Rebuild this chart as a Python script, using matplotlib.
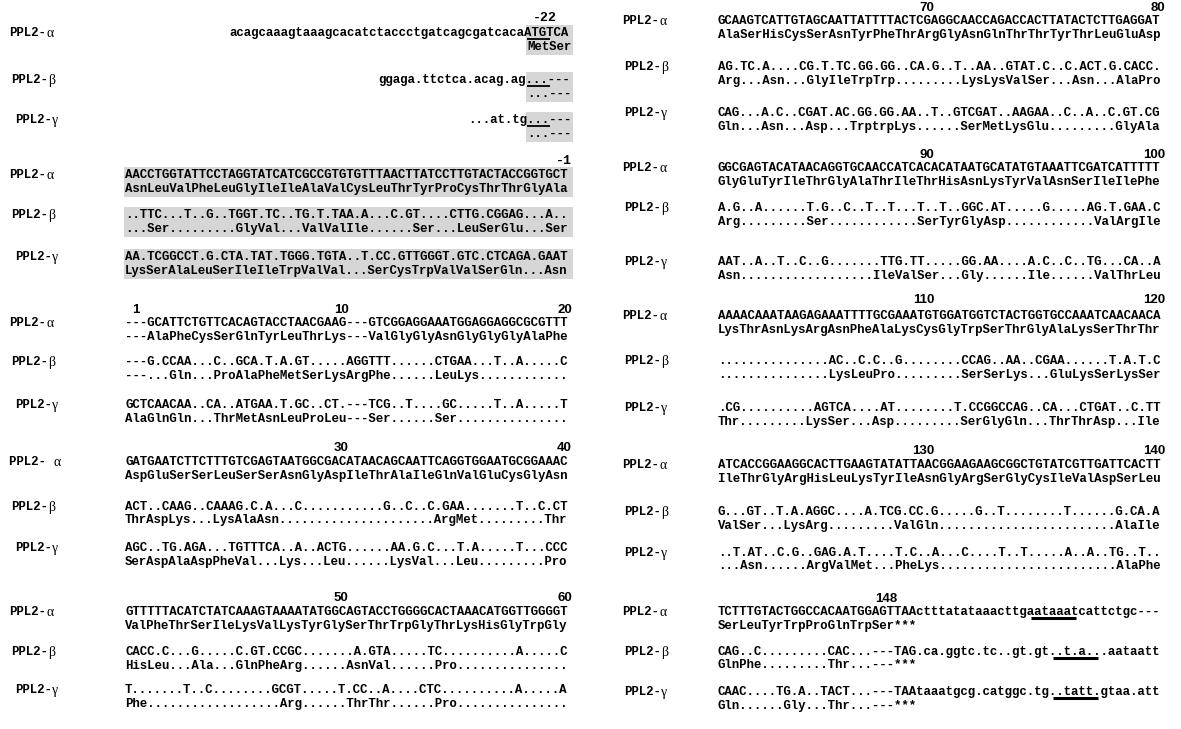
import matplotlib.pyplot as plt
from matplotlib.patches import Rectangle

# sequence names (alpha, beta, gamma)
names = ["PPL2-", "PPL2-", "PPL2-"]
greek = ["α", "β", "γ"]

# block -22 : 5' UTR and start codon
nt_m22 = ["acagcaaagtaaagcacatctaccctgatcagcgatcacaATGTCA",
          "ggaga.ttctca.acag.ag...---",
          "...at.tg...---"]
aa_m22 = ["MetSer", "...---", "...---"]

# block -1 : signal peptide
nt_m1 = ["AACCTGGTATTCCTAGGTATCATCGCCGTGTGTTTAACTTATCCTTGTACTACCGGTGCT",
         "..TTC...T..G..TGGT.TC..TG.T.TAA.A...C.GT....CTTG.CGGAG...A..",
         "AA.TCGGCCT.G.CTA.TAT.TGGG.TGTA..T.CC.GTTGGGT.GTC.CTCAGA.GAAT"]
aa_m1 = ["AsnLeuValPheLeuGlyIleIleAlaValCysLeuThrTyrProCysThrThrGlyAla",
         "...Ser.........GlyVal...ValValIle......Ser...LeuSerGlu...Ser",
         "LysSerAlaLeuSerIleIleTrpValVal...SerCysTrpValValSerGln...Asn"]

# block 1-20
nt_20 = ["---GCATTCTGTTCACAGTACCTAACGAAG---GTCGGAGGAAATGGAGGAGGCGCGTTT",
         "---G.CCAA...C..GCA.T.A.GT.....AGGTTT......CTGAA...T..A.....C",
         "GCTCAACAA..CA..ATGAA.T.GC..CT.---TCG..T....GC.....T..A.....T"]
aa_20 = ["---AlaPheCysSerGlnTyrLeuThrLys---ValGlyGlyAsnGlyGlyGlyAlaPhe",
         "---...Gln...ProAlaPheMetSerLysArgPhe......LeuLys............",
         "AlaGlnGln...ThrMetAsnLeuProLeu---Ser......Ser..............."]

# block 21-40
nt_40 = ["GATGAATCTTCTTTGTCGAGTAATGGCGACATAACAGCAATTCAGGTGGAATGCGGAAAC",
         "ACT..CAAG..CAAAG.C.A...C...........G..C..C.GAA.......T..C.CT",
         "AGC..TG.AGA...TGTTTCA..A..ACTG......AA.G.C...T.A.....T...CCC"]
aa_40 = ["AspGluSerSerLeuSerSerAsnGlyAspIleThrAlaIleGlnValGluCysGlyAsn",
         "ThrAspLys...LysAlaAsn.....................ArgMet.........Thr",
         "SerAspAlaAspPheVal...Lys...Leu......LysVal...Leu.........Pro"]

# block 41-60
nt_60 = ["GTTTTTACATCTATCAAAGTAAAATATGGCAGTACCTGGGGCACTAAACATGGTTGGGGT",
         "CACC.C...G.....C.GT.CCGC.......A.GTA.....TC..........A.....C",
         "T.......T..C........GCGT.....T.CC..A....CTC..........A.....A"]
aa_60 = ["ValPheThrSerIleLysValLysTyrGlySerThrTrpGlyThrLysHisGlyTrpGly",
         "HisLeu...Ala...GlnPheArg......AsnVal......Pro...............",
         "Phe..................Arg......ThrThr......Pro..............."]

# block 61-80
nt_80 = ["GCAAGTCATTGTAGCAATTATTTTACTCGAGGCAACCAGACCACTTATACTCTTGAGGAT",
         "AG.TC.A....CG.T.TC.GG.GG..CA.G..T..AA..GTAT.C..C.ACT.G.CACC.",
         "CAG...A.C..CGAT.AC.GG.GG.AA..T..GTCGAT..AAGAA..C..A..C.GT.CG"]
aa_80 = ["AlaSerHisCysSerAsnTyrPheThrArgGlyAsnGlnThrThrTyrThrLeuGluAsp",
         "Arg...Asn...GlyIleTrpTrp.........LysLysValSer...Asn...AlaPro",
         "Gln...Asn...Asp...TrptrpLys......SerMetLysGlu.........GlyAla"]

# block 81-100
nt_100 = ["GGCGAGTACATAACAGGTGCAACCATCACACATAATGCATATGTAAATTCGATCATTTTT",
          "A.G..A......T.G..C..T..T...T..T..GGC.AT.....G.....AG.T.GAA.C",
          "AAT..A..T..C..G.......TTG.TT.....GG.AA....A.C..C..TG...CA..A"]
aa_100 = ["GlyGluTyrIleThrGlyAlaThrIleThrHisAsnLysTyrValAsnSerIleIlePhe",
          "Arg.........Ser............SerTyrGlyAsp............ValArgIle",
          "Asn..................IleValSer...Gly......Ile......ValThrLeu"]

# block 101-120
nt_120 = ["AAAACAAATAAGAGAAATTTTGCGAAATGTGGATGGTCTACTGGTGCCAAATCAACAACA",
          "...............AC..C.C..G........CCAG..AA..CGAA......T.A.T.C",
          ".CG..........AGTCA....AT........T.CCGGCCAG..CA...CTGAT..C.TT"]
aa_120 = ["LysThrAsnLysArgAsnPheAlaLysCysGlyTrpSerThrGlyAlaLysSerThrThr",
          "...............LysLeuPro.........SerSerLys...GluLysSerLysSer",
          "Thr.........LysSer...Asp.........SerGlyGln...ThrThrAsp...Ile"]

# block 121-140
nt_140 = ["ATCACCGGAAGGCACTTGAAGTATATTAACGGAAGAAGCGGCTGTATCGTTGATTCACTT",
          "G...GT..T.A.AGGC....A.TCG.CC.G.....G..T........T......G.CA.A",
          "..T.AT..C.G..GAG.A.T....T.C..A...C....T..T.....A..A..TG..T.."]
aa_140 = ["IleThrGlyArgHisLeuLysTyrIleAsnGlyArgSerGlyCysIleValAspSerLeu",
          "ValSer...LysArg.........ValGln........................AlaIle",
          "...Asn......ArgValMet...PheLys........................AlaPhe"]

# block 141-148 : stop codon and 3' UTR
nt_148 = ["TCTTTGTACTGGCCACAATGGAGTTAActttatataaacttgaataaatcattctgc---",
          "CAG..C.........CAC...---TAG.ca.ggtc.tc..gt.gt..t.a...aataatt",
          "CAAC....TG.A..TACT...---TAAtaaatgcg.catggc.tg..tatt.gtaa.att"]
aa_148 = ["SerLeuTyrTrpProGlnTrpSer***",
          "GlnPhe.........Thr...---***",
          "Gln......Gly...Thr...---***"]

# ruler numbers: (text, last column it ends on)
ruler_m22 = [("-22", 58)]
ruler_m1 = [("-1", 60)]
ruler_20 = [("1", 2), ("10", 30), ("20", 60)]
ruler_40 = [("30", 30), ("40", 60)]
ruler_60 = [("50", 30), ("60", 60)]
ruler_80 = [("70", 29), ("80", 60)]
ruler_100 = [("90", 29), ("100", 60)]
ruler_120 = [("110", 29), ("120", 60)]
ruler_140 = [("130", 29), ("140", 60)]
ruler_148 = [("148", 24)]

# ---- layout -------------------------------------------------------------
W, H, DPI = 1181, 729, 100
CW = 7.45                       # width of one sequence column in pixels
FS = CW / 0.6 * 72 / DPI        # monospace font size giving that width
MONO = "Liberation Mono"
SANS = "Liberation Sans"
GRAY = "#d6d6d6"
LINE_GAP = 13.5                 # nucleotide line -> amino-acid line

panels = {"L": (125, [9, 11, 15]), "R": (718, [622, 624, 624])}

# (nt, aa, rulers, panel, ruler y, nt line y for alpha/beta/gamma, shaded columns)
blocks = [
    (nt_m22, aa_m22, ruler_m22, "L", 18, [33, 80, 120], (54, 60)),
    (nt_m1, aa_m1, ruler_m1, "L", 161, [175, 215, 257], (0, 60)),
    (nt_20, aa_20, ruler_20, "L", 310, [323, 362, 405], None),
    (nt_40, aa_40, ruler_40, "L", 448, [462, 507, 548], None),
    (nt_60, aa_60, ruler_60, "L", 598, [612, 652, 690], None),
    (nt_80, aa_80, ruler_80, "R", 8, [21, 67, 113], None),
    (nt_100, aa_100, ruler_100, "R", 155, [168, 208, 262], None),
    (nt_120, aa_120, ruler_120, "R", 300, [316, 361, 408], None),
    (nt_140, aa_140, ruler_140, "R", 451, [465, 512, 553], None),
    (nt_148, aa_148, ruler_148, "R", 599, [612, 652, 692], None),
]

# (block index, row, first column, number of columns, line width)
underlines = [(0, 0, 54, 3, 1.3), (0, 1, 54, 3, 1.3), (0, 2, 54, 3, 1.3),
              (9, 0, 42, 6, 2.2), (9, 1, 45, 6, 2.2), (9, 2, 45, 6, 2.2)]

fig = plt.figure(figsize=(W / DPI, H / DPI), dpi=DPI)
ax = fig.add_axes([0, 0, 1, 1])
ax.set_xlim(0, W)
ax.set_ylim(H, 0)
ax.axis("off")

mono = dict(family=MONO, weight="bold", fontsize=FS, va="center", ha="left")

for bi, (nts, aas, rulers, side, ry, ys, shade) in enumerate(blocks):
    x0, label_x = panels[side]
    for text, col in rulers:
        fam = MONO if text.startswith("-") else SANS
        ax.text(x0 + col * CW, ry, text, family=fam, weight="bold",
                fontsize=FS + 0.6, ha="right", va="center")
    for r in range(3):
        y = ys[r]
        nt, aa = nts[r], aas[r]
        # right-aligned rows start further in
        c_nt = 60 - len(nt) if bi == 0 else 0
        c_aa = 60 - len(aa) if bi == 0 else 0
        if shade is not None:
            c0, c1 = shade
            ax.add_patch(Rectangle((x0 + c0 * CW - 1, y - 8),
                                   (c1 - c0) * CW + 2, LINE_GAP + 16,
                                   color=GRAY, lw=0, zorder=0))
        ax.text(x0 + c_nt * CW, y, nt, **mono)
        ax.text(x0 + c_aa * CW, y + LINE_GAP, aa, **mono)
        # sequence name: bold "PPL2-" plus a serif greek letter
        pre = "PPL2- " if (bi == 3 and r == 0) else names[r]
        lx = label_x[r]
        ax.text(lx, y, pre, **mono)
        ax.text(lx + len(pre) * CW, y + 0.5, greek[r], family="Liberation Serif",
                fontsize=FS + 1, va="center", ha="left")

for bi, r, c0, n, lw in underlines:
    x0 = panels[blocks[bi][3]][0]
    y = blocks[bi][5][r] + 6
    ax.plot([x0 + c0 * CW, x0 + (c0 + n) * CW], [y, y], color="black",
            lw=lw, solid_capstyle="butt")

fig.savefig("out.png", dpi=DPI, facecolor="white")
